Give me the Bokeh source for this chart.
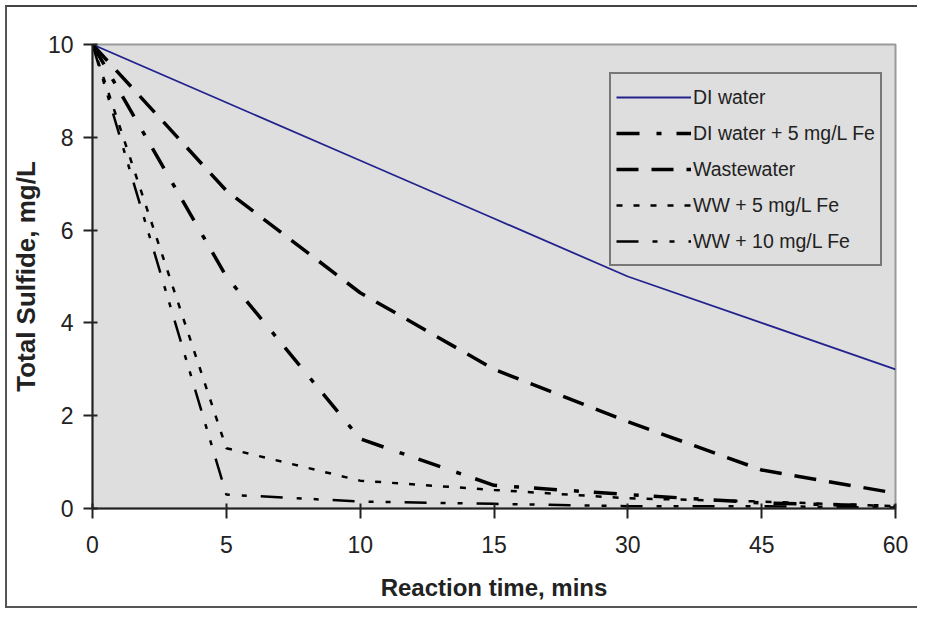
from bokeh.plotting import figure
from bokeh.models import FixedTicker, Legend, LegendItem, Range1d
from bokeh.embed import file_html
from bokeh.resources import INLINE

# ---- data ----
time_labels = ["0", "5", "10", "15", "30", "45", "60"]
di_water = [10, 8.75, 7.5, 6.25, 5.0, 4.0, 3.0]
di_water_fe5 = [10, 5.0, 1.5, 0.5, 0.3, 0.12, 0.05]
wastewater = [10, 6.85, 4.65, 3.0, 1.87, 0.83, 0.33]
ww_fe5 = [10, 1.3, 0.6, 0.4, 0.22, 0.15, 0.05]
ww_fe10 = [10, 0.3, 0.15, 0.1, 0.05, 0.05, 0.02]
y_ticks = [0, 2, 4, 6, 8, 10]

series_names = ["DI water", "DI water + 5 mg/L Fe", "Wastewater",
                "WW + 5 mg/L Fe", "WW + 10 mg/L Fe"]

xpos = list(range(len(time_labels)))

FONT = "'Liberation Sans Narrow', 'Arial Narrow', 'Liberation Sans', sans-serif"

p = figure(width=912, height=603, output_backend="svg", toolbar_location=None,
           x_range=Range1d(0, len(time_labels) - 1), y_range=Range1d(0, 10),
           min_border_left=80, min_border_right=24, min_border_top=37,
           min_border_bottom=102)
p.styles = {"transform": "translate(5px, 5px)",
            "border-left": "2px solid #555555", "border-top": "2px solid #444444",
            "border-bottom": "2px solid #555555"}

p.background_fill_color = "#dedede"
p.border_fill_color = "white"
p.outline_line_color = "#9a9a9a"
p.outline_line_width = 2
p.xgrid.visible = False
p.ygrid.visible = False

# axes
p.xaxis.ticker = FixedTicker(ticks=xpos)
p.xaxis.major_label_overrides = {i: t for i, t in zip(xpos, time_labels)}
p.yaxis.ticker = FixedTicker(ticks=y_ticks)
for ax in (p.xaxis[0], p.yaxis[0]):
    ax.axis_line_color = "#222222"
    ax.axis_line_width = 2
    ax.major_tick_line_color = "#222222"
    ax.major_tick_line_width = 2
    ax.minor_tick_line_color = None
    ax.major_label_text_font = FONT
    ax.major_label_text_font_size = "23px"
    ax.major_label_text_color = "#222222"
    ax.axis_label_text_font = FONT
    ax.axis_label_text_font_style = "bold"
    ax.axis_label_text_color = "#222222"
p.xaxis.axis_label_text_font_size = "24px"
p.yaxis.axis_label_text_font_size = "26px"
p.xaxis.major_tick_in = 5
p.xaxis.major_tick_out = 10
p.xaxis.major_label_standoff = 17
p.xaxis.axis_label = "Reaction time, mins"
p.xaxis.axis_label_standoff = 18
p.yaxis.major_tick_in = 5
p.yaxis.major_tick_out = 9
p.yaxis.major_label_standoff = 10
p.yaxis.axis_label = "Total Sulfide, mg/L"
p.yaxis.axis_label_standoff = 4

styles = [
    (di_water, "#23238e", 1.8, "solid"),
    (di_water_fe5, "black", 3.5, "23 17 5 15"),
    (wastewater, "black", 3.5, "22 13"),
    (ww_fe5, "black", 2.5, "6 11"),
    (ww_fe10, "black", 2.5, "22 14 5 12 5 14"),
]

items = []
for name, (vals, col, w, dash) in zip(series_names, styles):
    r = p.line(xpos, vals, line_color=col, line_width=w, line_dash=dash)
    items.append(LegendItem(label=name, renderers=[r]))

legend = Legend(items=items, location=(517, 242))
legend.background_fill_color = "#dedede"
legend.background_fill_alpha = 1.0
legend.border_line_color = "#111111"
legend.border_line_width = 2
legend.label_text_font = FONT
legend.label_text_font_size = "19.5px"
legend.label_text_color = "#222222"
legend.glyph_width = 75
legend.glyph_height = 36
legend.label_height = 36
legend.label_standoff = 2
legend.spacing = 0
legend.padding = 5
legend.margin = 0
p.add_layout(legend, "center")

open("out.html", "w").write(file_html(p, INLINE))
